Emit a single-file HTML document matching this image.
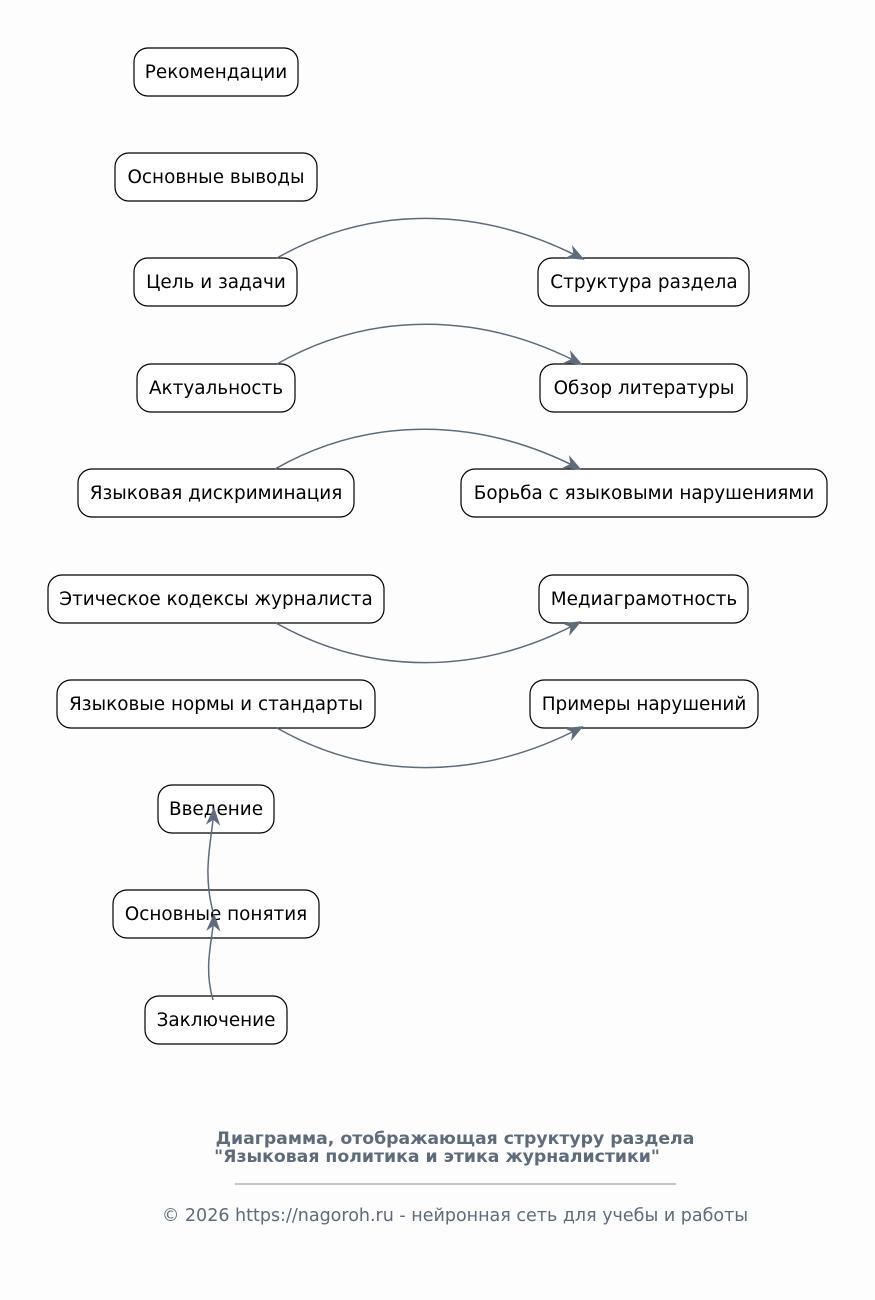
<!DOCTYPE html>
<html><head><meta charset="utf-8"><style>
html,body{margin:0;padding:0;background:#fdfdfd;}
svg{display:block;}
text{font-family:"DejaVu Sans","Liberation Sans",sans-serif;}
</style></head><body>
<svg width="875" height="1300" viewBox="0 0 875 1300" xmlns="http://www.w3.org/2000/svg">
<defs>
<marker id="a" viewBox="0 0 20 20" refX="18" refY="10" markerWidth="18" markerHeight="18" markerUnits="userSpaceOnUse" orient="auto">
<path d="M0,2 L20,10 L0,18 L6,10 Z" fill="#5e6b7a"/>
</marker>
</defs>
<g fill="#fff" stroke="#000" stroke-width="1.2">
<rect x="134" y="48" width="164" height="48" rx="14"/>
<rect x="115" y="153" width="202" height="48" rx="14"/>
<rect x="134" y="258" width="163" height="48" rx="14"/>
<rect x="137" y="364" width="158" height="48" rx="14"/>
<rect x="78" y="469" width="276" height="48" rx="14"/>
<rect x="48" y="575" width="336" height="48" rx="14"/>
<rect x="57" y="680" width="318" height="48" rx="14"/>
<rect x="158" y="785" width="116" height="48" rx="14"/>
<rect x="113" y="890" width="206" height="48" rx="14"/>
<rect x="145" y="996" width="142" height="48" rx="14"/>
<rect x="538" y="258" width="211" height="48" rx="14"/>
<rect x="540" y="364" width="207" height="48" rx="14"/>
<rect x="461" y="469" width="366" height="48" rx="14"/>
<rect x="539" y="575" width="209" height="48" rx="14"/>
<rect x="530" y="680" width="228" height="48" rx="14"/>
</g>
<g font-size="18.4" fill="#000" text-anchor="middle">
<text x="216" y="78">Рекомендации</text>
<text x="216" y="183">Основные выводы</text>
<text x="216" y="288">Цель и задачи</text>
<text x="216" y="394">Актуальность</text>
<text x="216" y="499">Языковая дискриминация</text>
<text x="216" y="605">Этическое кодексы журналиста</text>
<text x="216" y="710">Языковые нормы и стандарты</text>
<text x="216" y="815">Введение</text>
<text x="216" y="920">Основные понятия</text>
<text x="216" y="1026">Заключение</text>
<text x="644" y="288">Структура раздела</text>
<text x="644" y="394">Обзор литературы</text>
<text x="644" y="499">Борьба с языковыми нарушениями</text>
<text x="644" y="605">Медиаграмотность</text>
<text x="644" y="710">Примеры нарушений</text>
</g>
<g fill="none" stroke="#5e6b7a" stroke-width="1.5" marker-end="url(#a)">
<path d="M277,258 C370,205 480,205 583,259"/>
<path d="M277,364 C370,311 480,311 581,364"/>
<path d="M275,469 C368,416 478,416 580,469"/>
<path d="M276,623 C370,676 480,676 580,622"/>
<path d="M277,728 C370,781 480,781 582,727"/>
<path d="M213,1000 C203,965 213,940 214,915"/>
<path d="M213,912 C202,870 212,840 214,809"/>
</g>
<g fill="#5e6b7a" text-anchor="middle">
<text x="455" y="1144" font-size="17.3" font-weight="bold">Диаграмма, отображающая структуру раздела</text>
<text x="437" y="1162" font-size="17.3" font-weight="bold">"Языковая политика и этика журналистики"</text>
<line x1="235" y1="1184" x2="676" y2="1184" stroke="#5e6b7a" stroke-width="0.8"/>
<text x="455" y="1221" font-size="17.5">© 2026 https://nagoroh.ru - нейронная сеть для учебы и работы</text>
</g>
</svg>
</body></html>
